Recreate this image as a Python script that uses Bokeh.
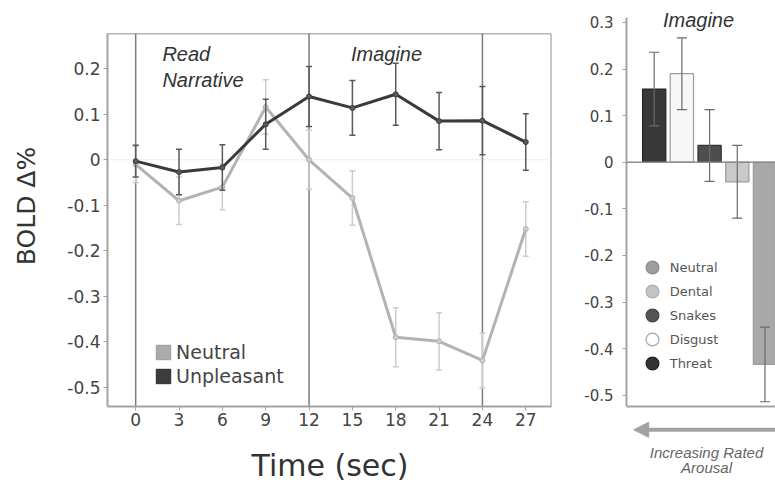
from bokeh.plotting import figure
from bokeh.layouts import row, column
from bokeh.models import (Range1d, FixedTicker, NumeralTickFormatter, Span, Label,
                          Legend, LegendItem, Arrow, NormalHead)
from bokeh.embed import file_html
from bokeh.resources import INLINE

# ---- time course of the BOLD response (left panel) ----
time_sec = [0, 3, 6, 9, 12, 15, 18, 21, 24, 27]
neutral_mean = [-0.010, -0.090, -0.060, 0.116, 0.000, -0.084, -0.390, -0.399, -0.441, -0.152]
neutral_sem = [0.040, 0.052, 0.050, 0.060, 0.065, 0.060, 0.065, 0.063, 0.060, 0.060]
unpleasant_mean = [-0.003, -0.027, -0.017, 0.078, 0.139, 0.114, 0.144, 0.085, 0.086, 0.039]
unpleasant_sem = [0.035, 0.050, 0.050, 0.055, 0.066, 0.060, 0.068, 0.063, 0.075, 0.062]
phase_onsets = [0, 12, 24]
time_ticks = [0, 3, 6, 9, 12, 15, 18, 21, 24, 27]
bold_ticks = [0.2, 0.1, 0, -0.1, -0.2, -0.3, -0.4, -0.5]

# ---- imagery period by narrative category (right panel) ----
categories = ["Threat", "Disgust", "Snakes", "Dental", "Neutral"]
category_mean = [0.157, 0.190, 0.036, -0.042, -0.434]
category_sem = [0.079, 0.077, 0.077, 0.078, 0.080]
legend_order = ["Neutral", "Dental", "Snakes", "Disgust", "Threat"]
bar_ticks = [0.3, 0.2, 0.1, 0, -0.1, -0.2, -0.3, -0.4, -0.5]

bar_fill = {"Threat": "#383838", "Disgust": "#f7f7f7", "Snakes": "#4e4e4e",
            "Dental": "#c9c9c9", "Neutral": "#a8a8a8"}
bar_line = {"Threat": "#242424", "Disgust": "#9c9c9c", "Snakes": "#333333",
            "Dental": "#9c9c9c", "Neutral": "#9c9c9c"}
dot_fill = {"Neutral": "#9d9d9d", "Dental": "#c4c4c4", "Snakes": "#555555",
            "Disgust": "#ffffff", "Threat": "#333333"}
dot_line = {"Neutral": "#8c8c8c", "Dental": "#acacac", "Snakes": "#444444",
            "Disgust": "#a8a8a8", "Threat": "#222222"}

NEU_LINE = "#b3b3b3"
NEU_ERR = "#cdcdcd"
UNP_LINE = "#3a3a3a"
UNP_ERR = "#5a5a5a"
FRAME = "#a3a3a3"
TICK_TXT = "#444444"
NAN = float("nan")

# axis extents of the time-course box
T_MIN, T_MAX = -1.95, 28.75
B_MIN, B_MAX = -0.5422, 0.277


def hide_title(fig):
    if fig.title is not None:
        fig.title.visible = False


# ================= left panel =================
left = figure(width=560, height=487,
              x_range=Range1d(T_MIN, 28.85), y_range=Range1d(B_MIN, 0.3391),
              output_backend="svg", toolbar_location=None,
              min_border_left=107, min_border_right=8,
              min_border_top=5, min_border_bottom=81)
hide_title(left)
left.background_fill_color = "white"
left.border_fill_color = "white"
left.outline_line_color = None
left.xgrid.visible = False
left.ygrid.visible = False

# box: top and right edges
left.segment(x0=[T_MIN, T_MAX], y0=[B_MAX, B_MIN], x1=[T_MAX, T_MAX], y1=[B_MAX, B_MAX],
             line_color="#b5b5b5", line_width=1.5)
left.segment(x0=[T_MIN], y0=[0], x1=[T_MAX], y1=[0], line_color="#ececec", line_width=1)
# phase boundaries
left.segment(x0=phase_onsets, y0=[B_MIN] * len(phase_onsets),
             x1=phase_onsets, y1=[B_MAX] * len(phase_onsets),
             line_color="#7c7c7c", line_width=1.5)


def draw_series(fig, x, mean, sem, line_color, err_color):
    lo = [m - s for m, s in zip(mean, sem)]
    hi = [m + s for m, s in zip(mean, sem)]
    fig.segment(x0=x, y0=lo, x1=x, y1=hi, line_color=err_color, line_width=1.5)
    fig.scatter(x=x + x, y=lo + hi, marker="dash", size=6,
                line_color=err_color, line_width=1.5)
    fig.line(x=x, y=mean, line_color=line_color, line_width=3)
    fig.scatter(x=x, y=mean, marker="circle", size=5,
                fill_color=err_color, line_color=line_color, line_width=1)


draw_series(left, time_sec, neutral_mean, neutral_sem, NEU_LINE, NEU_ERR)
draw_series(left, time_sec, unpleasant_mean, unpleasant_sem, UNP_LINE, UNP_ERR)

# legend swatches (never drawn in the plot area)
sw_neu = left.quad(left=[NAN], right=[NAN], top=[NAN], bottom=[NAN],
                   fill_color="#ababab", line_color="#9a9a9a")
sw_unp = left.quad(left=[NAN], right=[NAN], top=[NAN], bottom=[NAN],
                   fill_color="#3c3c3c", line_color="#2a2a2a")
left_legend = Legend(items=[LegendItem(label="Neutral", renderers=[sw_neu]),
                            LegendItem(label="Unpleasant", renderers=[sw_unp])],
                     location=(47, 19), glyph_width=18, glyph_height=18,
                     label_text_font="DejaVu Sans", label_text_font_size="19px",
                     label_text_color=TICK_TXT, label_standoff=4, spacing=2,
                     padding=0, margin=0, border_line_color=None,
                     background_fill_alpha=0)
left.add_layout(left_legend)

for txt, x, y in [("Read", 1.85, 0.233), ("Narrative", 1.85, 0.176), ("Imagine", 14.9, 0.233)]:
    left.add_layout(Label(x=x, y=y, text=txt, text_font="Liberation Sans",
                          text_font_style="italic", text_font_size="20px",
                          text_color="#333333", text_align="left",
                          text_baseline="middle"))

xa = left.xaxis[0]
xa.ticker = FixedTicker(ticks=time_ticks)
xa.bounds = (T_MIN, T_MAX)
xa.axis_label = "Time (sec)"
xa.axis_label_text_font = "DejaVu Sans"
xa.axis_label_text_font_style = "normal"
xa.axis_label_text_font_size = "30px"
xa.axis_label_text_color = "#333333"
xa.axis_label_standoff = 19
xa.major_label_text_font = "DejaVu Sans"
xa.major_label_text_font_size = "17px"
xa.major_label_text_color = TICK_TXT
xa.major_label_standoff = 2
xa.axis_line_color = FRAME
xa.axis_line_width = 2
xa.major_tick_line_color = FRAME
xa.major_tick_out = 4
xa.major_tick_in = 0
xa.minor_tick_line_color = None

ya = left.yaxis[0]
ya.ticker = FixedTicker(ticks=bold_ticks)
ya.bounds = (B_MIN, B_MAX)
ya.formatter = NumeralTickFormatter(format="0.[0]")
ya.axis_label = "BOLD \u0394%"
ya.axis_label_text_font = "DejaVu Sans"
ya.axis_label_text_font_style = "normal"
ya.axis_label_text_font_size = "25px"
ya.axis_label_text_color = "#333333"
ya.axis_label_standoff = 23
ya.major_label_text_font = "DejaVu Sans"
ya.major_label_text_font_size = "17px"
ya.major_label_text_color = TICK_TXT
ya.major_label_standoff = 3
ya.axis_line_color = FRAME
ya.axis_line_width = 2
ya.major_tick_line_color = FRAME
ya.major_tick_out = 4
ya.major_tick_in = 0
ya.minor_tick_line_color = None

# ================= right panel =================
R_MIN, R_MAX = -0.5243, 0.3105
right = figure(width=215, height=410,
               x_range=Range1d(0, 5.38), y_range=Range1d(-0.5285, 0.3363),
               output_backend="svg", toolbar_location=None, x_axis_location=None,
               min_border_left=66, min_border_right=0,
               min_border_top=5, min_border_bottom=2)
hide_title(right)
right.background_fill_color = "white"
right.border_fill_color = "white"
right.outline_line_color = None
right.xgrid.visible = False
right.ygrid.visible = False

pos = [i + 1 for i in range(len(categories))]
right.vbar(x=pos, top=category_mean, bottom=0, width=0.84,
           fill_color=[bar_fill[c] for c in categories],
           line_color=[bar_line[c] for c in categories], line_width=1.2)
right.add_layout(Span(location=0, dimension="width", line_color="#8e8e8e", line_width=1.5))
right.add_layout(Span(location=R_MIN, dimension="width", line_color=FRAME, line_width=2))
lo = [m - s for m, s in zip(category_mean, category_sem)]
hi = [m + s for m, s in zip(category_mean, category_sem)]
right.segment(x0=pos, y0=lo, x1=pos, y1=hi, line_color="#6a6a6a", line_width=1.2)
right.scatter(x=pos + pos, y=lo + hi, marker="dash", size=10,
              line_color="#6a6a6a", line_width=1.2)

dot_renderers = {}
for c in legend_order:
    dot_renderers[c] = right.ellipse(x=[NAN], y=[NAN], width=12, height=12,
                                     width_units="screen", height_units="screen",
                                     fill_color=dot_fill[c], line_color=dot_line[c],
                                     line_width=1.2)
right_legend = Legend(items=[LegendItem(label=c, renderers=[dot_renderers[c]]) for c in legend_order],
                      location=(17.7, 36.7), glyph_width=16, glyph_height=16,
                      label_text_font="DejaVu Sans", label_text_font_size="13px",
                      label_text_color="#555555", label_standoff=10, spacing=8,
                      padding=0, margin=0, border_line_color=None,
                      background_fill_alpha=0)
right.add_layout(right_legend)

right.add_layout(Label(x=2.6, y=0.305, text="Imagine", text_font="Liberation Sans",
                       text_font_style="italic", text_font_size="20px",
                       text_color="#333333", text_align="center", text_baseline="middle"))

ry = right.yaxis[0]
ry.ticker = FixedTicker(ticks=bar_ticks)
ry.bounds = (R_MIN, R_MAX)
ry.formatter = NumeralTickFormatter(format="0.[0]")
ry.major_label_text_font = "DejaVu Sans"
ry.major_label_text_font_size = "15px"
ry.major_label_text_color = TICK_TXT
ry.major_label_standoff = 9
ry.axis_line_color = FRAME
ry.axis_line_width = 2
ry.major_tick_line_color = FRAME
ry.major_tick_out = 4
ry.major_tick_in = 0
ry.minor_tick_line_color = None

# ---- arousal arrow under the bars ----
foot = figure(width=215, height=77,
              x_range=Range1d(0, 5.38), y_range=Range1d(0, 77),
              output_backend="svg", toolbar_location=None,
              x_axis_location=None, y_axis_location=None,
              min_border_left=66, min_border_right=0, min_border_top=0, min_border_bottom=0)
hide_title(foot)
foot.outline_line_color = None
foot.xgrid.visible = False
foot.ygrid.visible = False
foot.background_fill_color = "white"
foot.border_fill_color = "white"
foot.add_layout(Arrow(end=NormalHead(size=15, fill_color="#a2a2a2", line_color="#a2a2a2"),
                      x_start=5.6, y_start=57.7, x_end=0.26, y_end=57.7,
                      line_color="#a2a2a2", line_width=4))
for txt, y in [("Increasing Rated", 35.3), ("Arousal", 20.3)]:
    foot.add_layout(Label(x=2.89, y=y, text=txt, text_font="Liberation Sans",
                          text_font_style="italic", text_font_size="15px",
                          text_color="#666666", text_align="center",
                          text_baseline="middle"))

layout = row(left, column(right, foot))
open("out.html", "w").write(file_html(layout, INLINE))
